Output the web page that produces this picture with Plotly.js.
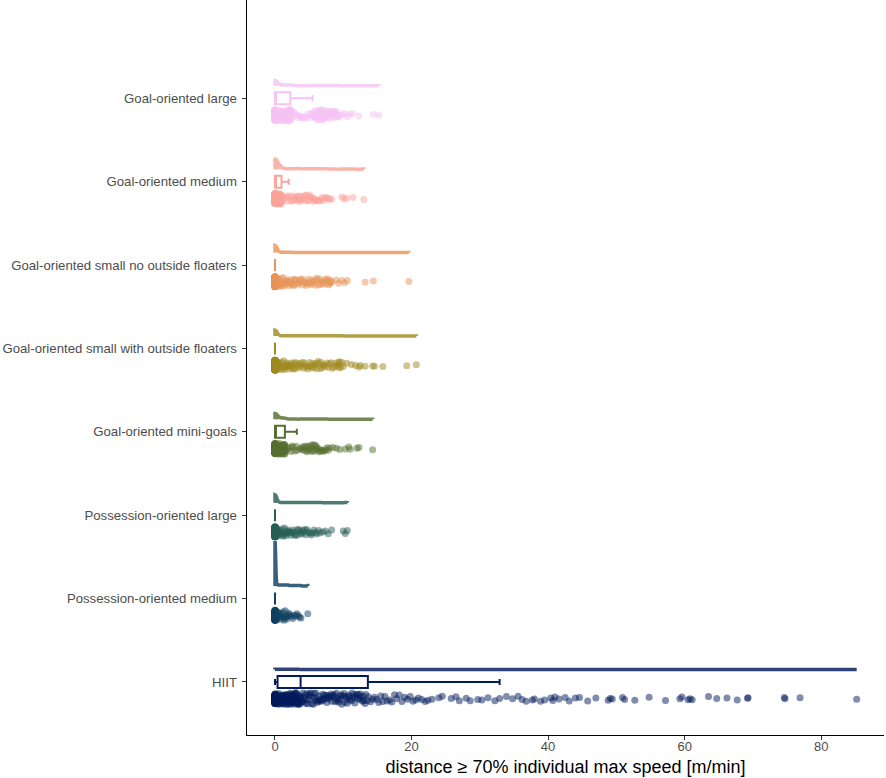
<!DOCTYPE html>
<html>
<head>
<meta charset="utf-8">
<script src="https://cdn.plot.ly/plotly-3.0.1.min.js"></script>
<style>html,body{margin:0;padding:0;background:#fff;}#chart{width:886px;height:778px;}</style>
</head>
<body>
<div id="chart"></div>
<script>
// Categories from bottom (index 0) to top (index 7)
const categories = [
  'HIIT',
  'Possession-oriented medium',
  'Possession-oriented large',
  'Goal-oriented mini-goals',
  'Goal-oriented small with outside floaters',
  'Goal-oriented small no outside floaters',
  'Goal-oriented medium',
  'Goal-oriented large'
];
const xTickVals = [0, 20, 40, 60, 80];
const xTitle = 'distance \u2265 70% individual max speed [m/min]';

// Values (m/min)
const hiit = [
  0,0,0,0,0,0,0,0,0,0, 0,0,0,0,0,0,0,0,0,0,
  0,0,0,0,0,0,0,0,0,0, 0,0,0,0,0,0,0,0,0,0,
  0,0,0,0,0,0,0,0,0,0, 0,0,0,0,0,0,0,0,0,0,
  0,0,0,0,0,0,0,0,0,0,
  0.1,0.1,0.1,0.2,0.2,0.2,0.3,0.3,0.3,0.35,
  0.4,0.4,0.5,0.5,0.6,0.6,0.7,0.7,0.8,0.8,
  0.9,0.9,1.0,1.0,1.1,1.1,1.2,1.2,1.3,1.3,
  1.4,1.4,1.5,1.5,1.6,1.6,1.7,1.7,1.8,1.8,
  1.9,1.9,2.0,2.0,2.1,2.1,2.2,2.2,2.3,2.3,
  2.4,2.4,2.5,2.5,2.6,2.6,2.7,2.7,2.8,2.8,
  2.9,2.9,3.0,3.0,3.1,3.1,3.2,3.2,3.3,3.3,
  3.4,3.4,3.5,3.5,3.6,3.6,3.7,3.7,0.45,0.55,
  0.65,0.75,1.05,1.45,1.95,2.35,2.65,3.05,3.45,3.65,
  3.8,3.9,4.0,4.1,4.2,4.3,4.4,4.5,4.6,4.7,
  4.8,4.9,5.0,5.1,5.2,5.4,5.5,5.6,5.7,5.8,
  5.9,6.0,6.2,6.3,6.4,6.5,6.6,6.8,6.9,7.0,
  7.1,7.2,7.4,7.5,7.6,7.7,7.8,8.0,8.1,8.2,
  8.3,8.5,8.6,8.7,8.8,9.0,9.1,9.2,9.3,9.5,
  9.6,9.7,9.8,10.0,10.1,10.2,10.4,10.5,10.6,10.8,
  10.9,11.0,11.2,11.3,11.4,11.6,11.7,11.8,12.0,12.1,
  12.2,12.4,12.5,12.6,12.8,12.9,13.0,13.2,13.3,13.5,
  13.7,14.0,14.3,14.6,14.9,15.2,15.5,15.8,16.1,16.4,
  16.8,17.1,17.5,17.8,18.2,18.6,19.0,19.4,19.8,20.2,
  20.6,21.0,21.5,22.0,22.4,23.0,24.0,24.5,25.8,26.5,
  27.0,28.0,28.6,29.7,30.3,31.2,32.2,32.9,
  33.9,34.8,35.6,36.2,36.8,37.7,38.0,38.9,39.5,40.4,
  40.7,41.0,41.6,42.5,43.1,44.0,44.6,45.8,47.0,
  48.8,49.1,49.4,50.9,51.2,52.7,54.8,57.2,59.3,59.6,
  60.5,60.8,61.1,63.5,64.7,66.2,67.7,69.2,69.3,74.6,
  74.7,76.9,85.2
];
const possMedium = [
  0,0,0,0,0,0,0,0,0,0, 0,0,0,0,0,0,0,0,0,0,
  0,0,0,0,0,0,0,0,0,0, 0,0,0,0,0,0,0,0,0,0,
  0,0,0,0,0,0,0,0,0,0, 0,0,0,0,0,0,0,0,0,0,
  0,0,0,0,0,0,0,0,0,0, 0,0,0,0,0,0,0,0,0,0,
  0,0,0,0,0,0,0,0,0,0, 0,0,0,0,0,
  0.1,0.2,0.2,0.3,0.4,0.5,0.6,0.7,0.8,0.9,
  1.0,1.1,1.2,1.3,1.4,1.5,1.6,1.7,1.8,1.9,
  2.0,2.2,2.4,2.6,2.8,3.0,3.2,3.4,3.6,3.8,
  4.8
];
const possLarge = [
  0,0,0,0,0,0,0,0,0,0, 0,0,0,0,0,0,0,0,0,0,
  0,0,0,0,0,0,0,0,0,0, 0,0,0,0,0,0,0,0,0,0,
  0,0,0,0,0,0,0,0,0,0, 0,0,0,0,0,0,0,0,0,0,
  0,0,0,0,0,0,0,0,0,0, 0,0,0,0,0,0,0,0,0,0,
  0,0,0,0,0,0,0,0,0,0, 0,0,0,0,0,0,0,0,0,0,
  0,0,0,0,0,0,0,0,0,0, 0,0,0,0,0,0,0,0,0,0,
  0,0,0,0,0,0,0,0,0,0, 0,0,0,0,0,0,0,0,0,0,
  0,0,0,0,0,0,0,0,0,0, 0,0,0,0,0,0,0,0,0,0,
  0,0,0,0,0,0,0,0,0,0, 0,0,0,
  0.1,0.2,0.2,0.3,0.4,0.4,0.5,0.6,0.7,0.8,
  0.9,1.0,1.1,1.2,1.3,1.4,1.5,1.6,1.7,1.8,
  1.9,2.0,2.1,2.3,2.4,2.5,2.6,2.8,2.9,3.0,
  3.2,3.3,3.5,3.6,3.8,3.9,4.1,4.2,4.4,4.5,
  4.7,4.9,5.1,5.3,5.5,5.7,5.9,6.1,6.4,6.6,
  7.0,7.4,7.8,8.3,10.0,10.3,10.6
];
const miniGoals = [
  0,0,0,0,0,0,0,0,0,0, 0,0,0,0,0,0,0,0,0,0,
  0,0,0,0,0,0,0,0,0,0, 0,0,0,0,0,0,0,0,0,0,
  0,0,0,0,0,0,0,0,0,0, 0,0,0,0,0,0,0,0,0,0,
  0,0,0,0,0,0,0,0,0,0, 0,0,0,0,0,0,0,0,0,0,
  0,0,0,0,0,0,0,0,0,0, 0,0,0,0,0,0,0,0,0,0,
  0,0,
  0.1,0.1,0.1,0.2,0.2,0.2,0.3,0.3,0.3,0.4,
  0.4,0.4,0.5,0.5,0.5,0.6,0.6,0.6,0.7,0.7,
  0.7,0.8,0.8,0.8,0.9,0.9,0.9,1.0,1.0,1.0,
  1.1,1.1,1.1,1.2,1.2,1.2,1.3,1.3,1.3,1.4,
  1.4,1.4,1.4,1.4,1.4,1.4,1.4,1.4,
  1.5,1.7,1.9,2.1,2.3,2.5,2.7,2.9,3.1,3.2,
  3.7,3.8,4.0,4.1,4.3,4.4,4.6,4.7,4.9,5.0,
  5.2,5.3,5.5,5.6,5.8,5.9,6.1,6.2,6.4,6.5,
  6.7,6.8,7.0,7.2,7.4,7.6,7.8,8.0,8.5,9.0,
  9.5,10.3,10.8,11.0,12.0,12.3,14.3,6.0,5.4,4.8
];
const smallWith = [
  0,0,0,0,0,0,0,0,0,0, 0,0,0,0,0,0,0,0,0,0,
  0,0,0,0,0,0,0,0,0,0, 0,0,0,0,0,0,0,0,0,0,
  0,0,0,0,0,0,0,0,0,0, 0,0,0,0,0,0,0,0,0,0,
  0,0,0,0,0,0,0,0,0,0, 0,0,0,0,0,0,0,0,0,0,
  0,0,0,0,0,0,0,0,0,0, 0,0,0,0,0,0,0,0,0,0,
  0,0,0,0,0,0,0,0,0,0, 0,0,0,0,0,0,0,0,0,0,
  0,0,0,0,0,0,0,0,0,0, 0,0,0,0,0,0,0,0,0,0,
  0,0,0,0,0,0,0,0,0,0, 0,0,0,0,0,0,0,0,0,0,
  0,0,0,0,0,0,0,0,0,0, 0,0,0,0,0,0,0,0,0,0,
  0,0,0,0,0,0,0,0,0,0, 0,0,0,0,0,0,0,0,0,0,
  0,0,0,0,0,0,0,0,0,0, 0,0,0,0,0,0,0,0,0,0,
  0,0,0,0,0,0,0,0,0,0, 0,0,0,0,0,0,0,0,0,0,
  0,0,0,0,0,0,0,0,0,0, 0,0,0,0,0,0,0,0,0,0,
  0,0,0,
  0.1,0.2,0.2,0.3,0.4,0.4,0.5,0.6,0.6,0.7,
  0.8,0.9,1.0,1.1,1.2,1.3,1.4,1.5,1.6,1.7,
  1.8,1.9,2.0,2.1,2.2,2.3,2.4,2.5,2.6,2.7,
  2.8,3.0,3.1,3.3,3.4,3.6,3.7,3.9,4.0,4.2,
  4.3,4.5,4.6,4.8,4.9,5.1,5.2,5.4,5.5,5.7,
  5.8,6.0,6.1,6.3,6.4,6.6,6.7,6.9,7.0,7.2,
  7.4,7.6,7.8,8.0,8.2,8.4,8.6,8.8,9.0,9.2,
  9.3,9.4,9.5,9.6,9.8,
  10.0,10.5,11.2,11.8,12.3,12.5,13.2,14.3,14.6,15.8,19.3,20.7
];
const smallNo = [
  0,0,0,0,0,0,0,0,0,0, 0,0,0,0,0,0,0,0,0,0,
  0,0,0,0,0,0,0,0,0,0, 0,0,0,0,0,0,0,0,0,0,
  0,0,0,0,0,0,0,0,0,0, 0,0,0,0,0,0,0,0,0,0,
  0,0,0,0,0,0,0,0,0,0, 0,0,0,0,0,0,0,0,0,0,
  0,0,0,0,0,0,0,0,0,0, 0,0,0,0,0,0,0,0,0,0,
  0,0,0,0,0,0,0,0,0,0, 0,0,0,0,0,0,0,0,0,0,
  0,0,0,0,0,0,0,0,0,0, 0,0,0,0,0,0,0,0,0,0,
  0,0,0,0,0,0,0,0,0,0, 0,0,0,0,0,0,0,0,0,0,
  0,0,0,0,0,0,0,0,0,0, 0,0,0,0,0,0,0,0,0,0,
  0,0,0,0,0,0,0,0,0,0, 0,0,0,0,0,0,0,0,0,0,
  0,0,0,0,0,0,0,0,0,0, 0,0,0,0,0,0,0,0,0,0,
  0,0,0,0,0,0,0,0,0,0, 0,0,0,0,0,0,
  0.1,0.2,0.2,0.3,0.4,0.4,0.5,0.6,0.6,0.7,
  0.8,0.8,0.9,1.0,1.1,1.2,1.3,1.4,1.5,1.6,
  1.7,1.8,1.9,2.0,2.1,2.2,2.3,2.4,2.5,2.6,
  2.8,2.9,3.0,3.2,3.3,3.4,3.6,3.7,3.8,4.0,
  4.1,4.3,4.4,4.6,4.7,4.9,5.0,5.2,5.3,5.5,
  5.6,5.8,5.9,6.1,6.2,6.4,6.5,6.7,6.8,7.0,
  7.1,7.3,7.4,7.6,7.7,7.9,8.0,8.1,8.2,8.3,
  9.0,9.3,9.8,10.2,10.6,13.2,14.4,19.6
];
const goalMedium = [
  0,0,0,0,0,0,0,0,0,0, 0,0,0,0,0,0,0,0,0,0,
  0,0,0,0,0,0,0,0,0,0, 0,0,0,0,0,0,0,0,0,0,
  0,0,0,0,0,0,0,0,0,0, 0,0,0,0,0,0,0,0,0,0,
  0,0,0,0,0,0,0,0,0,0, 0,0,0,0,0,0,0,0,0,0,
  0,0,0,0,0,0,0,0,0,0, 0,0,0,0,0,0,0,0,0,0,
  0,0,
  0.1,0.1,0.1,0.1,0.1,0.2,0.2,0.2,0.2,0.2,
  0.3,0.3,0.3,0.3,0.3,0.4,0.4,0.4,0.4,0.4,
  0.5,0.5,0.5,0.5,0.5,0.6,0.6,0.6,0.6,0.6,
  0.7,0.7,0.7,0.7,0.7,0.8,0.8,0.8,0.8,0.8,
  0.9,0.9,0.9,0.9,0.9,0.9,0.9,0.9,
  1.0,1.2,1.4,1.6,1.8,1.9,2.0,
  2.4,2.5,2.6,2.8,2.9,3.0,3.1,3.3,3.4,3.5,
  3.6,3.8,3.9,4.0,4.2,4.3,4.5,4.6,4.8,4.9,
  5.0,5.2,5.3,5.5,5.6,5.8,5.9,6.1,6.3,6.5,
  6.7,6.9,7.1,7.3,7.5,7.8,8.0,8.3,9.8,10.1,
  10.5,11.4,13.0
];
const goalLarge = [
  0,0,0,0,0,0,0,0,0,0, 0,0,0,0,0,0,0,0,0,0,
  0,0,0,0,0,0,0,0,0,0, 0,0,0,0,0,0,0,0,0,0,
  0,0,0,0,0,0,0,0,0,0, 0,0,0,0,0,0,0,0,0,0,
  0,0,0,0,0,0,0,0,0,0, 0,0,0,0,0,0,0,0,0,0,
  0,0,0,0,0,0,0,0,0,0, 0,0,0,0,0,0,0,0,0,0,
  0,0,0,0,0,0,0,0,0,0, 0,0,0,0,0,0,0,0,0,0,
  0,0,0,0,0,0,0,0,0,0, 0,0,0,0,0,0,0,0,0,0,
  0,0,0,0,0,0,0,0,0,0, 0,0,
  0.1,0.1,0.1,0.1,0.2,0.2,0.2,0.2,0.3,0.3,
  0.3,0.3,0.4,0.4,0.4,0.5,0.5,0.5,0.6,0.6,
  0.6,0.7,0.7,0.7,0.8,0.8,0.8,0.9,0.9,0.9,
  1.0,1.0,1.0,1.1,1.1,1.2,1.2,1.3,1.3,1.4,
  1.4,1.5,1.5,1.6,1.6,1.7,1.7,1.8,1.8,1.8,
  1.9,1.9,1.9,2.0,2.0,2.0,2.1,2.1,2.1,2.2,
  2.2,2.2,2.2,2.2,2.2,2.2,2.2,2.2,2.2,2.2,
  2.2,2.2,2.2,
  2.3,2.5,2.6,2.8,3.0,3.2,3.4,3.6,3.8,4.0,
  4.2,4.4,4.6,4.8,5.0,5.2,5.4,5.5,
  5.7,5.8,5.9,6.0,6.1,6.2,6.3,6.4,6.5,6.6,
  6.7,6.8,6.9,7.0,7.1,7.2,7.3,7.4,7.5,7.6,
  7.7,7.8,7.9,8.0,8.1,8.2,8.3,8.4,8.5,8.6,
  8.7,8.8,8.9,9.0,9.1,9.2,9.4,9.6,9.9,10.3,
  10.6,11.0,11.4,12.3,14.4,15.2,
  5.75,6.05,6.35,6.65,6.95,7.25,7.55,7.85,8.15,8.45,8.75
];
const seriesValues = [hiit, possMedium, possLarge, miniGoals, smallWith, smallNo, goalMedium, goalLarge];

// Styles
const colors = ['#011c5c', '#0f3f60', '#275f55', '#566f30', '#a08a22', '#e8955a', '#fba49b', '#f6c4f3'];
const violinWidths = [0.008, 1.08, 0.19, 0.14, 0.14, 0.17, 0.24, 0.12];
const violinBandwidths = [0.5, 0.1, 0.25, 0.35, 0.3, 0.3, 0.35, 0.4];
const boxWidth = 0.144;
const ptsWidth = 0.2;

const traces = [];
seriesValues.forEach((vals, i) => {
  traces.push({
    type: 'violin', orientation: 'h', x: vals, y0: i + 0.15, name: categories[i],
    side: 'positive', width: violinWidths[i], spanmode: 'hard', bandwidth: violinBandwidths[i],
    points: false, box: {visible: false}, meanline: {visible: false},
    line: {color: colors[i], width: 3.5}, fillcolor: colors[i], opacity: 0.82,
    hoverinfo: 'skip', showlegend: false
  });
  traces.push({
    type: 'box', orientation: 'h', x: vals, y0: i, name: categories[i],
    width: boxWidth, boxpoints: 'all', jitter: 0, pointpos: 0,
    line: {color: colors[i], width: 2}, fillcolor: 'rgba(255,255,255,0)',
    marker: {color: colors[i], size: 1, opacity: 0},
    hoverinfo: 'skip', showlegend: false
  });
  // jittered raw points: zero values and non-zero values as two groups
  [[vals.filter(v => v === 0), 0.6], [vals.filter(v => v > 0), 0.7]].forEach(([group, jit]) => {
    traces.push({
      type: 'box', orientation: 'h', x: group, y0: i, name: categories[i],
      width: ptsWidth, boxpoints: 'all', jitter: jit, pointpos: -2.0,
      line: {color: 'rgba(0,0,0,0)', width: 0}, fillcolor: 'rgba(0,0,0,0)', whiskerwidth: 0,
      marker: {color: colors[i], size: 7, opacity: 0.5, line: {width: 0}},
      hoverinfo: 'skip', showlegend: false
    });
  });
});

const layout = {
  width: 886, height: 778,
  margin: {l: 247, r: 2, t: 0, b: 43},
  paper_bgcolor: '#ffffff', plot_bgcolor: '#ffffff',
  font: {family: 'Liberation Sans, Arial, sans-serif', color: '#4d4d4d', size: 13},
  showlegend: false, boxmode: 'overlay', violinmode: 'overlay',
  xaxis: {
    range: [-4.1, 89.2], tickvals: xTickVals, ticks: 'outside', ticklen: 4, tickcolor: '#333',
    showline: true, linecolor: '#000', linewidth: 1.4, showgrid: false, zeroline: false,
    tickfont: {size: 13, color: '#4d4d4d'}, automargin: false, ticklabelstandoff: -5,
    title: {text: xTitle, font: {size: 18, color: '#000'}, standoff: 7}
  },
  yaxis: {
    range: [-0.636, 8.179], tickvals: categories.map((c, i) => i), ticktext: categories,
    ticks: 'outside', ticklen: 4, tickcolor: '#333', ticklabelstandoff: 2,
    showline: true, linecolor: '#000', linewidth: 1.4, showgrid: false, zeroline: false,
    tickfont: {size: 13.2, color: '#4d4d4d'}, automargin: false
  }
};

Plotly.newPlot('chart', traces, layout, {displayModeBar: false, staticPlot: true});
</script>
</body>
</html>
